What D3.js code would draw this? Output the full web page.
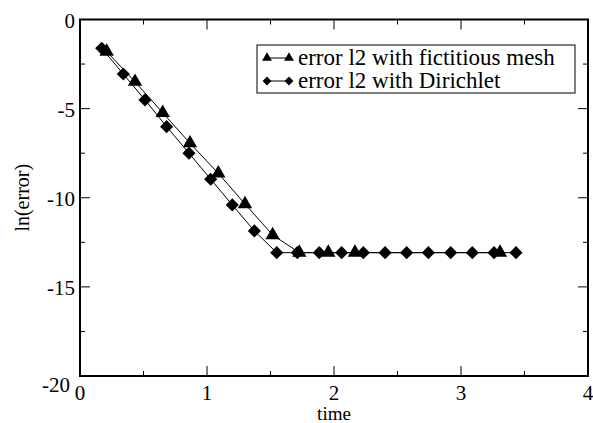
<!DOCTYPE html>
<html>
<head>
<meta charset="utf-8">
<script src="https://cdn.jsdelivr.net/npm/d3@7"></script>
<style>
  body { margin: 0; background: #fff; }
  svg { display: block; }
  text { font-family: 'Liberation Serif', 'Times New Roman', Times, 'Nimbus Roman', 'DejaVu Serif', serif; }
</style>
</head>
<body>
<div id="chart"></div>
<script>
// series: error l2 with fictitious mesh (triangles)
const fictTime = [0.21, 0.433, 0.651, 0.866, 1.089, 1.299, 1.517, 1.727, 1.955, 2.165, 3.307];
const fictErr = [-1.8, -3.49, -5.23, -6.94, -8.63, -10.35, -12.09, -13.08, -13.08, -13.08, -13.08];

// series: error l2 with Dirichlet (diamonds)
const dirTime = [0.171, 0.341, 0.512, 0.682, 0.858, 1.029, 1.199, 1.373, 1.549, 1.711, 1.884, 2.06, 2.231, 2.402, 2.572, 2.743, 2.919, 3.089, 3.26, 3.433];
const dirErr = [-1.615, -3.06, -4.51, -6.01, -7.5, -8.96, -10.4, -11.86, -13.08, -13.08, -13.08, -13.08, -13.08, -13.08, -13.08, -13.08, -13.08, -13.08, -13.08, -13.08];

const xTicks = [0, 1, 2, 3, 4];
const yTicks = [0, -5, -10, -15, -20];
const legendLabels = ['error l2 with fictitious mesh', 'error l2 with Dirichlet'];

const width = 593;
const height = 423;
const margin = { top: 19.5, right: 5, bottom: 47, left: 80 };

const svg = d3.select('#chart').append('svg')
  .attr('width', width)
  .attr('height', height);

const x = d3.scaleLinear().domain([0, 4]).range([margin.left, width - margin.right]);
const y = d3.scaleLinear().domain([-20, 0]).range([height - margin.bottom, margin.top]);

const series = [
  { name: legendLabels[0], symbol: d3.symbolTriangle, size: 90, legendSize: 42, pts: fictTime.map((t, i) => [t, fictErr[i]]) },
  { name: legendLabels[1], symbol: d3.symbolDiamond2, size: 110, legendSize: 50, pts: dirTime.map((t, i) => [t, dirErr[i]]) },
];

// ticks (inward, on all four sides)
const tickG = svg.append('g').attr('stroke', '#000').attr('stroke-width', 1);
const xMinor = d3.range(0, 4.01, 0.5);
const yMinor = d3.range(-20, 0.01, 2.5);
xMinor.forEach((v) => {
  const len = Number.isInteger(v) ? 10 : 5;
  tickG.append('line').attr('x1', x(v)).attr('x2', x(v)).attr('y1', y(-20)).attr('y2', y(-20) - len);
  tickG.append('line').attr('x1', x(v)).attr('x2', x(v)).attr('y1', y(0)).attr('y2', y(0) + len);
});
yMinor.forEach((v) => {
  const len = v % 5 === 0 ? 10 : 5;
  tickG.append('line').attr('x1', x(0)).attr('x2', x(0) + len).attr('y1', y(v)).attr('y2', y(v));
  tickG.append('line').attr('x1', x(4)).attr('x2', x(4) - len).attr('y1', y(v)).attr('y2', y(v));
});

// frame
svg.append('rect')
  .attr('x', x(0)).attr('y', y(0))
  .attr('width', x(4) - x(0)).attr('height', y(-20) - y(0))
  .attr('fill', 'none').attr('stroke', '#000').attr('stroke-width', 2);

// tick labels
svg.append('g').selectAll('text')
  .data(xTicks)
  .join('text')
  .attr('x', (d) => x(d))
  .attr('y', y(-20) + 24)
  .attr('text-anchor', 'middle')
  .attr('font-size', 21)
  .text((d) => d);

svg.append('g').selectAll('text')
  .data(yTicks)
  .join('text')
  .attr('x', (d) => x(0) - (d === -20 ? 10 : 5))
  .attr('y', (d) => y(d) + (d === -20 ? 16 : 8))
  .attr('text-anchor', 'end')
  .attr('font-size', 21)
  .text((d) => d);

// axis titles
svg.append('text')
  .attr('x', (x(0) + x(4)) / 2)
  .attr('y', 420)
  .attr('text-anchor', 'middle')
  .attr('font-size', 19)
  .text('time');

svg.append('text')
  .attr('transform', `translate(29,${(y(0) + y(-20)) / 2}) rotate(-90)`)
  .attr('text-anchor', 'middle')
  .attr('font-size', 20)
  .text('ln(error)');

// lines + markers
const line = d3.line().x((d) => x(d[0])).y((d) => y(d[1]));
series.forEach((s) => {
  svg.append('path')
    .attr('d', line(s.pts))
    .attr('fill', 'none')
    .attr('stroke', '#000')
    .attr('stroke-width', 1);
  svg.append('g').selectAll('path')
    .data(s.pts)
    .join('path')
    .attr('transform', (d) => `translate(${x(d[0])},${y(d[1])})`)
    .attr('d', d3.symbol().type(s.symbol).size(s.size))
    .attr('fill', '#000');
});

// legend
const lg = svg.append('g');
lg.append('rect')
  .attr('x', 257).attr('y', 45)
  .attr('width', 318).attr('height', 48)
  .attr('fill', '#fff').attr('stroke', '#000').attr('stroke-width', 1);
const legendTexts = [];
series.forEach((s, i) => {
  const ly = 58 + i * 23;
  lg.append('line')
    .attr('x1', 267).attr('x2', 289).attr('y1', ly).attr('y2', ly)
    .attr('stroke', '#000').attr('stroke-width', 1);
  [267, 289].forEach((lx) => {
    lg.append('path')
      .attr('transform', `translate(${lx},${ly})`)
      .attr('d', d3.symbol().type(s.symbol).size(s.legendSize))
      .attr('fill', '#000');
  });
  legendTexts.push(lg.append('text')
    .attr('x', 298).attr('y', ly + 7)
    .attr('font-size', 23)
    .text(s.name));
});
// shrink the legend font if the installed face runs wider than the box allows
const longest = legendTexts[0].node().getComputedTextLength();
if (longest > 270) {
  const fs = Math.max(14, 23 * (270 / longest));
  legendTexts.forEach((t) => t.attr('font-size', fs));
}
</script>
</body>
</html>
